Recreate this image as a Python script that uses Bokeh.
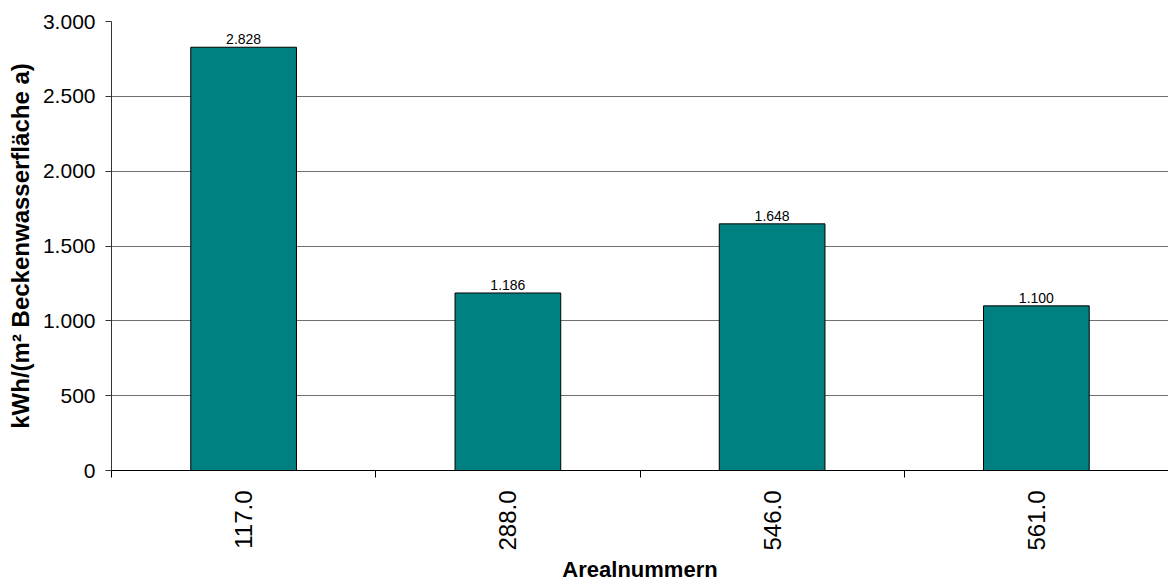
import math
from bokeh.plotting import figure
from bokeh.models import Range1d, FixedTicker, ColumnDataSource
from bokeh.core.properties import value
from bokeh.embed import file_html
from bokeh.resources import INLINE

categories = ["117.0", "288.0", "546.0", "561.0"]
values = [2828, 1186, 1648, 1100]
y_ticks = [0, 500, 1000, 1500, 2000, 2500, 3000]


def de_fmt(v):
    return f"{v:,}".replace(",", ".")


FONT = "Liberation Sans"

xpos = [i + 0.5 for i in range(len(categories))]
src = ColumnDataSource(dict(x=xpos, top=values, label=[de_fmt(v) for v in values]))

p = figure(width=1168, height=585, output_backend="svg", toolbar_location=None,
           x_range=Range1d(0, len(categories)), y_range=Range1d(0, 3000))
p.min_border_left = 111
p.min_border_top = 21
p.min_border_right = 0
p.min_border_bottom = 115
p.outline_line_color = None
p.background_fill_color = "white"
p.border_fill_color = "white"

p.vbar(x="x", top="top", width=0.4, bottom=0, source=src,
       fill_color="#008080", line_color="black", line_width=1)
p.text(x="x", y="top", text="label", source=src, text_align="center",
       text_baseline="bottom", y_offset=-3, text_font=value(FONT),
       text_font_size="14px", text_color="black")

# x axis
p.xaxis.ticker = FixedTicker(ticks=xpos, minor_ticks=list(range(len(categories) + 1)))
p.xaxis.major_label_overrides = {x: c for x, c in zip(xpos, categories)}
p.xaxis.major_label_orientation = math.pi / 2
p.xaxis.major_tick_out = 0
p.xaxis.major_tick_in = 0
p.xaxis.minor_tick_out = 7
p.xaxis.minor_tick_in = 0
p.xaxis.minor_tick_line_color = "black"
p.xaxis.axis_line_color = "black"
p.xaxis.major_label_standoff = 13
p.xaxis.major_label_text_font = FONT
p.xaxis.major_label_text_font_size = "24px"
p.xaxis.major_label_text_color = "black"
p.xaxis.axis_label = "Arealnummern"
p.xaxis.axis_label_text_font = FONT
p.xaxis.axis_label_text_font_style = "bold"
p.xaxis.axis_label_text_font_size = "22px"
p.xaxis.axis_label_text_color = "black"
p.xaxis.axis_label_standoff = 3

# y axis
p.yaxis.ticker = FixedTicker(ticks=y_ticks)
p.yaxis.major_label_overrides = {t: de_fmt(t) for t in y_ticks}
p.yaxis.major_tick_out = 6
p.yaxis.major_tick_in = 0
p.yaxis.minor_tick_line_color = None
p.yaxis.axis_line_color = "#333333"
p.yaxis.major_tick_line_color = "#333333"
p.yaxis.major_label_standoff = 10
p.yaxis.major_label_text_font = FONT
p.yaxis.major_label_text_font_size = "21px"
p.yaxis.major_label_text_color = "black"
p.yaxis.axis_label = "kWh/(m² Beckenwasserfläche a)"
p.yaxis.axis_label_text_font = FONT
p.yaxis.axis_label_text_font_style = "bold"
p.yaxis.axis_label_text_font_size = "24px"
p.yaxis.axis_label_text_color = "black"
p.yaxis.axis_label_standoff = 6

p.xgrid.grid_line_color = None
p.ygrid.grid_line_color = "#707070"
p.ygrid.grid_line_width = 1

open("out.html", "w").write(file_html(p, INLINE))
